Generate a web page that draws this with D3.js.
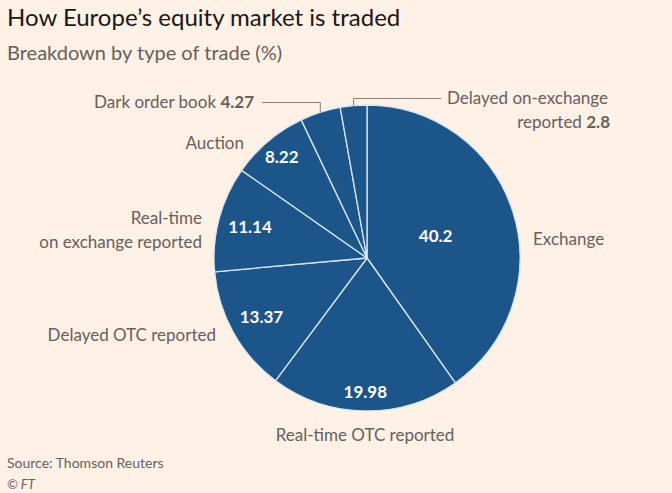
<!DOCTYPE html>
<html>
<head>
<meta charset="utf-8">
<script src="https://cdn.jsdelivr.net/npm/d3@7"></script>
<style>
  body { margin: 0; background: #fff1e5; }
  svg { display: block; font-family: Lato, "Open Sans", sans-serif; }
</style>
</head>
<body>
<div id="chart"></div>
<script>
// data
const categories = ['Exchange', 'Real-time OTC reported', 'Delayed OTC reported',
  'Real-time on exchange reported', 'Auction', 'Dark order book', 'Delayed on-exchange reported'];
const shares = [40.2, 19.98, 13.37, 11.14, 8.22, 4.27, 2.8];
const valueLabels = ['40.2', '19.98', '13.37', '11.14', '8.22', '4.27', '2.8'];

const width = 672, height = 493;
const cx = 367, cy = 258, radius = 153;

const svg = d3.select('#chart').append('svg')
    .attr('width', width)
    .attr('height', height);

svg.append('rect').attr('width', width).attr('height', height).attr('fill', '#fff1e5');

// titles
svg.append('text').attr('x', 7).attr('y', 26)
    .attr('font-size', 24).attr('fill', '#1a1817')
    .text('How Europe\u2019s equity market is traded');
svg.append('text').attr('x', 7).attr('y', 60)
    .attr('font-size', 20).attr('fill', '#66605c')
    .text('Breakdown by type of trade (%)');

const data = categories.map((c, i) => ({name: c, value: shares[i], label: valueLabels[i]}));

const pie = d3.pie().sort(null).value(d => d.value);
const arcs = pie(data);
const arc = d3.arc().innerRadius(0).outerRadius(radius);

const g = svg.append('g').attr('transform', `translate(${cx},${cy})`);

g.selectAll('path.slice')
    .data(arcs)
    .join('path')
    .attr('class', 'slice')
    .attr('d', arc)
    .attr('fill', '#1b558a')
    .attr('stroke', '#d6e6f2')
    .attr('stroke-width', 1.3)
    .attr('stroke-linejoin', 'round');

// values inside the slices, each at its own distance from the centre
const insideR = [72, 134, 121, 121, 132, 0, 0];
const valLayer = svg.append('g').attr('transform', `translate(${cx},${cy})`);
arcs.forEach((d, i) => {
    const r = insideR[i];
    if (!r) return;
    const p = d3.arc().innerRadius(r).outerRadius(r).centroid(d);
    valLayer.append('text')
        .attr('x', p[0])
        .attr('y', p[1] + 6)
        .attr('text-anchor', 'middle')
        .attr('font-size', 17)
        .attr('font-weight', 700)
        .attr('fill', '#ffffff')
        .text(d.data.label);
});

// outside category labels
const labelColor = '#66605c';
const outside = [
  {x: 533, y: 245, anchor: 'start', lines: ['Exchange']},
  {x: 365, y: 441, anchor: 'middle', lines: ['Real-time OTC reported']},
  {x: 216, y: 341, anchor: 'end', lines: ['Delayed OTC reported']},
  {x: 202, y: 224, anchor: 'end', lines: ['Real-time', 'on exchange reported']},
  {x: 244, y: 149, anchor: 'end', lines: ['Auction']}
];
outside.forEach(o => {
    const t = svg.append('text').attr('x', o.x).attr('y', o.y)
        .attr('text-anchor', o.anchor).attr('font-size', 17).attr('fill', labelColor);
    o.lines.forEach((l, i) => t.append('tspan').attr('x', o.x).attr('dy', i ? 24 : 0).text(l));
});

// leader lines for the two thin slices
const midAngle = d => (d.startAngle + d.endAngle) / 2;
const edge = d => [cx + radius * Math.sin(midAngle(d)), cy - radius * Math.cos(midAngle(d))];
const dark = arcs[5], delayed = arcs[6];
const darkEdge = edge(dark);
const delEdge = edge(delayed);

svg.append('path')
    .attr('d', `M262,102.5H${darkEdge[0]}V${darkEdge[1]}`)
    .attr('fill', 'none').attr('stroke', '#8a817c').attr('stroke-width', 1);
svg.append('path')
    .attr('d', `M441,98.5H${delEdge[0]}V${delEdge[1]}`)
    .attr('fill', 'none').attr('stroke', '#8a817c').attr('stroke-width', 1);

const darkT = svg.append('text').attr('x', 254).attr('y', 108)
    .attr('text-anchor', 'end').attr('font-size', 17).attr('fill', labelColor);
darkT.append('tspan').text('Dark order book ');
darkT.append('tspan').attr('font-weight', 700).text(dark.data.label);

svg.append('text').attr('x', 447).attr('y', 104)
    .attr('font-size', 17).attr('fill', labelColor)
    .text('Delayed on-exchange');
const delT = svg.append('text').attr('x', 610).attr('y', 128)
    .attr('text-anchor', 'end').attr('font-size', 17).attr('fill', labelColor);
delT.append('tspan').text('reported ');
delT.append('tspan').attr('font-weight', 700).text(delayed.data.label);

// footer
svg.append('text').attr('x', 7).attr('y', 468)
    .attr('font-size', 14).attr('fill', labelColor)
    .text('Source: Thomson Reuters');
svg.append('text').attr('x', 7).attr('y', 489)
    .attr('font-size', 13).attr('font-style', 'italic').attr('fill', labelColor)
    .text('\u00a9 FT');
</script>
</body>
</html>
